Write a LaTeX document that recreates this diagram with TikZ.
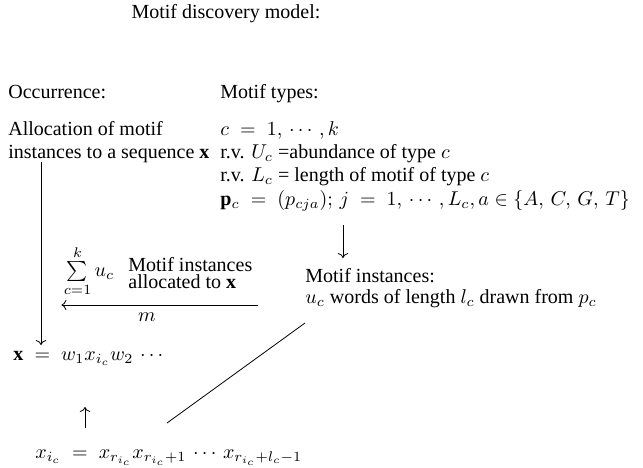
\documentclass[tikz,border=0pt]{standalone}
\usepackage{amsmath,amssymb}
\usepackage{fontspec}
\setmainfont{Liberation Serif}
\usepackage{xcolor}
\usepackage{tikz}
\usetikzlibrary{arrows.meta,positioning,calc}

\begin{document}
\begin{tikzpicture}[x=0.5pt,y=-0.5pt,>=To,
  txt/.style={anchor=base west,inner sep=0pt}]
\useasboundingbox (0,0) rectangle (643,467);
\node[anchor=base,inner sep=0pt] (title) at (226,18) {Motif discovery model:};
\node[txt] (occ) at (8,98) {Occurrence:};
\node[txt] (types) at (220,98) {Motif types:};
\node[txt] (alloc1) at (8,135) {Allocation of motif};
\node[txt] (alloc2) at (8,158) {instances to a sequence $\mathbf{x}$};
\node[txt] (cdef) at (220,135) {$c\;=\;1,\,\cdots\,,k$};
\node[txt] (udef) at (220,158) {r.v. $U_c$ =abundance of type $c$};
\node[txt] (ldef) at (220,181) {r.v. $L_c$ = length of motif of type $c$};
\node[txt] (pdef) at (220,205) {$\mathbf{p}_c\;=\;(p_{cja});\,j\;=\;1,\,\cdots\,,L_c,a\in\{A,\,C,\,G,\,T\}$};
\node[txt] (inst) at (305,282) {Motif instances:};
\node[txt] (words) at (305,303) {$u_c$ words of length $l_c$ drawn from $p_c$};
\node[inner sep=0pt] (sum) at (89,271) {$\sum\limits_{c=1}^{k} u_c$};
\node[txt] (alloc3) at (128,271) {Motif instances};
\node[txt] (alloc4) at (128,288) {allocated to $\mathbf{x}$};
\node[anchor=base,inner sep=0pt] (mlab) at (147,321) {$m$};
\node[txt] (xeq) at (13,360) {$\mathbf{x}\;=\;w_1x_{i_c}w_2\,\cdots$};
\node[txt] (xic) at (35,458) {$x_{i_c}\;=\;x_{r_{i_c}}x_{r_{i_c}+1}\,\cdots\,x_{r_{i_c}+l_c-1}$};
% arrows
\draw[->] ($(alloc2.base west)+(33,4)$) -- ($(xeq.base west)+(28,-15)$);
\draw[->] ($(pdef.base west)+(123,20)$) -- ($(inst.base west)+(38,-24)$);
\draw[->] ($(words.base west)+(-47,2)$) -- ($(sum.west)+(-2,34)$);
\draw[->] ($(xic.base west)+(50,-30)$) -- ($(xeq.base west)+(72,47)$);
\draw ($(xic.base west)+(132,-35)$) -- ($(words.base west)+(0,20)$);
\end{tikzpicture}
\end{document}
